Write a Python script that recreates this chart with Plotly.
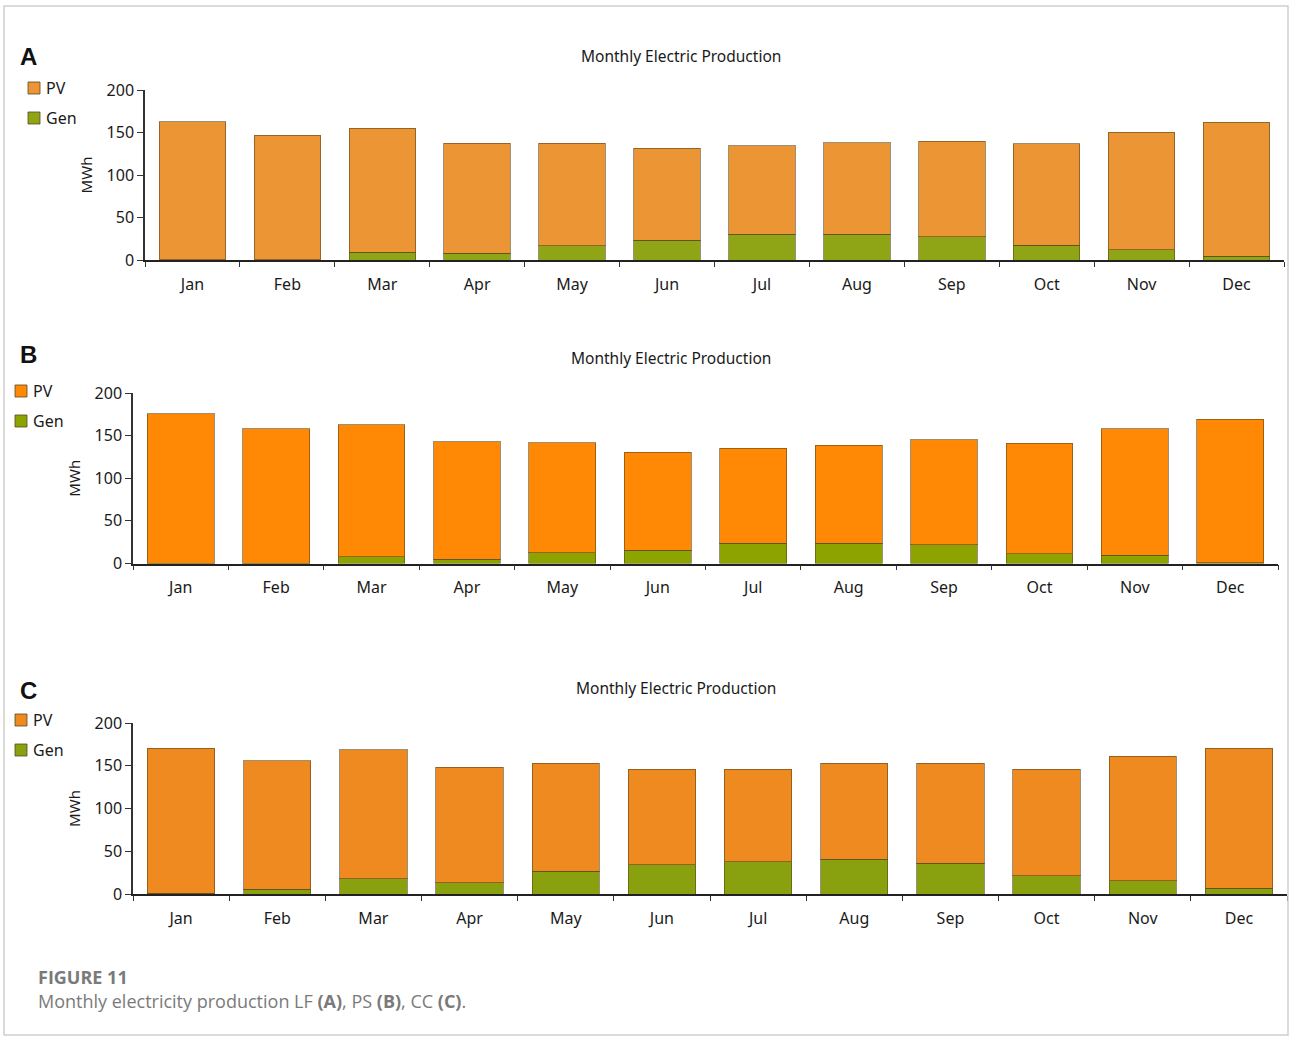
import plotly.graph_objects as go

W, H = 1290, 1037

months = ["Jan", "Feb", "Mar", "Apr", "May", "Jun", "Jul", "Aug", "Sep", "Oct", "Nov", "Dec"]
y_ticks = [0, 50, 100, 150, 200]

# Panel A (LF) - stacked monthly production, MWh
gen_a = [0.5, 0.5, 9, 8, 17, 23.5, 30.5, 30.5, 27.5, 17.5, 12, 4.5]
total_a = [162.5, 147, 155, 137.5, 137.5, 131.5, 134.5, 138, 139.5, 136.5, 150.5, 162]
pv_a = [t - g for t, g in zip(total_a, gen_a)]

# Panel B (PS)
gen_b = [0.3, 0.3, 8, 5, 12.5, 15.5, 23.5, 23.5, 22, 11.5, 9.5, 1]
total_b = [175.5, 158, 163, 143, 141.5, 130.5, 135, 139, 145, 141, 158, 169]
pv_b = [t - g for t, g in zip(total_b, gen_b)]

# Panel C (CC)
gen_c = [1, 5.5, 18, 13, 26.5, 34, 38, 40.5, 36, 21.5, 15.5, 6.5]
total_c = [170.5, 156, 169, 148, 153, 146, 146, 153, 153, 146, 161, 170.5]
pv_c = [t - g for t, g in zip(total_c, gen_c)]

panels = [
    dict(letter="A", pv=pv_a, gen=gen_a, pv_col="#EC9535", gen_col="#8FA516",
         x0=145, x1=1284, ytop=90, ybot=260, title_x=681, title_y=56,
         letter_y=56, leg_x=28, leg_y=88, title_standoff=10),
    dict(letter="B", pv=pv_b, gen=gen_b, pv_col="#FF8904", gen_col="#8CA300",
         x0=133, x1=1278, ytop=393, ybot=563.5, title_x=671, title_y=358,
         letter_y=354, leg_x=15, leg_y=391, title_standoff=10),
    dict(letter="C", pv=pv_c, gen=gen_c, pv_col="#EE8A1F", gen_col="#8AA10F",
         x0=133, x1=1287, ytop=723, ybot=894, title_x=676, title_y=688,
         letter_y=690, leg_x=15, leg_y=720, title_standoff=10),
]

def px(x):
    return x / W

def py(y):
    return 1 - y / H

fig = go.Figure()
annotations = []
shapes = []
FONT = "Noto Sans, Open Sans, sans-serif"
tick_font = dict(family=FONT, size=16, color="#1a1a1a")

for i, p in enumerate(panels, start=1):
    xa = "x" if i == 1 else f"x{i}"
    ya = "y" if i == 1 else f"y{i}"
    outline = dict(color="rgba(90,70,30,0.6)", width=1)
    fig.add_trace(go.Bar(x=months, y=p["gen"], name="Gen", marker=dict(color=p["gen_col"], line=outline),
                         xaxis=xa, yaxis=ya, showlegend=False))
    fig.add_trace(go.Bar(x=months, y=p["pv"], name="PV", marker=dict(color=p["pv_col"], line=outline),
                         xaxis=xa, yaxis=ya, showlegend=False))
    xkey = "xaxis" if i == 1 else f"xaxis{i}"
    ykey = "yaxis" if i == 1 else f"yaxis{i}"
    fig.update_layout({
        xkey: dict(domain=[px(p["x0"]), px(p["x1"])], anchor=ya, type="category",
                   categoryorder="array", categoryarray=months,
                   showline=True, linecolor="#222", linewidth=1.5,
                   ticks="outside", tickson="boundaries", ticklen=5, tickcolor="#333",
                   ticklabelstandoff=9,
                   tickfont=dict(family=FONT, size=16, color="#1a1a1a"),
                   showgrid=False, zeroline=False, automargin=False, fixedrange=True),
        ykey: dict(domain=[py(p["ybot"]), py(p["ytop"])], anchor=xa, range=[0, 200],
                   tickvals=y_ticks, showline=True, linecolor="#333", linewidth=1.5,
                   ticks="outside", ticklen=6, tickcolor="#333", tickfont=tick_font,
                   showgrid=False, zeroline=False, automargin=False, fixedrange=True,
                   title=dict(text="MWh", standoff=p["title_standoff"],
                              font=dict(family=FONT, size=15, color="#1a1a1a"))),
    })
    # panel title
    annotations.append(dict(text="Monthly Electric Production", x=px(p["title_x"]), y=py(p["title_y"]),
                            xref="paper", yref="paper", showarrow=False, xanchor="center", yanchor="middle",
                            font=dict(family=FONT, size=15.5, color="#1a1a1a")))
    # panel letter
    annotations.append(dict(text="<b>%s</b>" % p["letter"], x=px(18), y=py(p["letter_y"]),
                            xref="paper", yref="paper", showarrow=False, xanchor="left", yanchor="middle",
                            font=dict(family="Liberation Sans, Arial, sans-serif", size=24, color="#111")))
    # legend
    for k, (lab, col) in enumerate([("PV", p["pv_col"]), ("Gen", p["gen_col"])]):
        yc = p["leg_y"] + k * 30
        shapes.append(dict(type="rect", xref="paper", yref="paper",
                           x0=px(p["leg_x"]), x1=px(p["leg_x"] + 12), y0=py(yc + 6), y1=py(yc - 6),
                           fillcolor=col, line=dict(color="rgba(90,70,30,0.8)", width=1)))
        annotations.append(dict(text=lab, x=px(p["leg_x"] + 16), y=py(yc), xref="paper", yref="paper",
                                showarrow=False, xanchor="left", yanchor="middle",
                                font=dict(family=FONT, size=16, color="#1a1a1a")))

# caption
annotations.append(dict(text="<b>FIGURE 11</b>", x=px(36), y=py(977), xref="paper", yref="paper",
                        showarrow=False, xanchor="left", yanchor="middle",
                        font=dict(family="Open Sans, sans-serif", size=18, color="#7a7a7a")))
annotations.append(dict(text="Monthly electricity production LF <b>(A)</b>, PS <b>(B)</b>, CC <b>(C)</b>.",
                        x=px(36), y=py(1001), xref="paper", yref="paper",
                        showarrow=False, xanchor="left", yanchor="middle",
                        font=dict(family="Open Sans, sans-serif", size=18, color="#7a7a7a")))

# outer frame
shapes.append(dict(type="rect", xref="paper", yref="paper", x0=px(4), x1=px(1288), y0=py(1035), y1=py(6),
                   line=dict(color="#cfcfcf", width=1.5), fillcolor="rgba(0,0,0,0)"))

fig.update_layout(
    width=W, height=H, barmode="stack", bargap=0.3,
    margin=dict(l=0, r=0, t=0, b=0),
    paper_bgcolor="white", plot_bgcolor="white",
    annotations=annotations, shapes=shapes, showlegend=False,
)

fig.write_html("out.html", config={"displayModeBar": False})
